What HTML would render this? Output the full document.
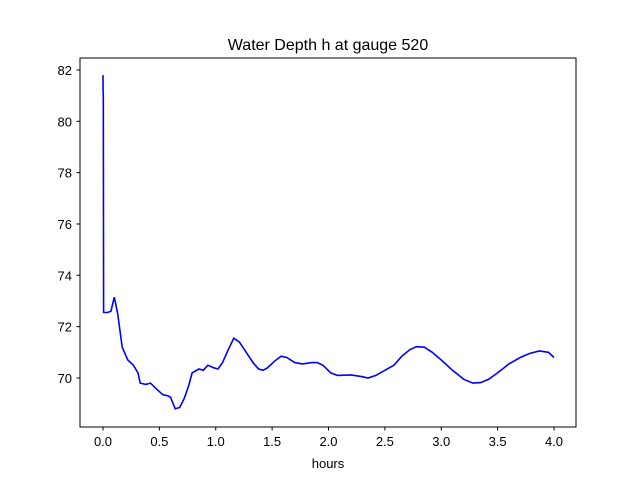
<!DOCTYPE html>
<html><head><meta charset="utf-8"><style>
body{margin:0;background:#fff;}
svg{font-family:"Liberation Sans","DejaVu Sans",sans-serif;}
</style></head><body>
<svg width="640" height="480">
<rect width="640" height="480" fill="#fff"/>
<text x="328" y="50" font-size="16" text-anchor="middle">Water Depth h at gauge 520</text>
<g id="xt"></g>
<g id="yt"></g>
<path id="ln" fill="none" stroke="#0000ff" stroke-width="1.6"/>
<rect x="80" y="58" width="496" height="369" fill="none" stroke="#000" stroke-width="1"/>
<text x="328" y="468" font-size="13" text-anchor="middle">hours</text>
</svg>
<script>
const times=[0,0.001,0.003,0.005,0.04,0.07,0.1,0.13,0.17,0.22,0.27,0.31,0.33,0.38,0.42,0.48,0.53,0.58,0.6,0.64,0.68,0.72,0.76,0.79,0.85,0.89,0.93,0.98,1.02,1.06,1.11,1.16,1.21,1.27,1.33,1.38,1.42,1.46,1.52,1.58,1.63,1.7,1.77,1.85,1.9,1.95,2.02,2.08,2.2,2.3,2.35,2.42,2.5,2.58,2.65,2.72,2.78,2.85,2.92,3.0,3.1,3.2,3.28,3.35,3.42,3.5,3.6,3.7,3.78,3.87,3.95,4.0];
const depth=[81.8,81.2,81.0,72.55,72.55,72.6,73.15,72.5,71.2,70.7,70.5,70.2,69.8,69.75,69.8,69.55,69.35,69.3,69.25,68.8,68.85,69.2,69.7,70.2,70.35,70.3,70.5,70.4,70.35,70.6,71.1,71.55,71.4,71.0,70.6,70.35,70.3,70.4,70.65,70.85,70.8,70.6,70.55,70.6,70.6,70.5,70.2,70.1,70.12,70.05,70.0,70.1,70.3,70.5,70.85,71.1,71.22,71.2,71.0,70.7,70.3,69.95,69.8,69.82,69.95,70.2,70.55,70.8,70.95,71.05,71.0,70.8];
const xTicks=[0,0.5,1,1.5,2,2.5,3,3.5,4];
const xLabels=["0.0","0.5","1.0","1.5","2.0","2.5","3.0","3.5","4.0"];
const yTicks=[70,72,74,76,78,80,82];
const X=v=>103+v*112.75, Y=v=>378-(v-70)*25.67;
const NS="http://www.w3.org/2000/svg";
const xt=document.getElementById('xt'), yt=document.getElementById('yt');
xTicks.forEach((t,i)=>{
 const l=document.createElementNS(NS,'line');
 
 
 l.setAttribute('x1',X(t));l.setAttribute('x2',X(t));l.setAttribute('y1',427);l.setAttribute('y2',430.5);l.setAttribute('stroke','#000');
 xt.appendChild(l);
 const s=document.createElementNS(NS,'text');
 
 
 s.setAttribute('x',X(t));s.setAttribute('y',446);s.setAttribute('font-size','13');s.setAttribute('text-anchor','middle');
 s.textContent=xLabels[i];xt.appendChild(s);
});
yTicks.forEach(t=>{
 const l=document.createElementNS(NS,'line');
 
 
 l.setAttribute('x1',76.5);l.setAttribute('x2',80);l.setAttribute('y1',Y(t));l.setAttribute('y2',Y(t));l.setAttribute('stroke','#000');
 yt.appendChild(l);
 const s=document.createElementNS(NS,'text');
 
 
 s.setAttribute('x',72);s.setAttribute('y',Y(t)+5);s.setAttribute('font-size','13');s.setAttribute('text-anchor','end');
 s.textContent=t;yt.appendChild(s);
});
document.getElementById('ln').setAttribute('d',times.map((t,i)=>(i?'L':'M')+X(t).toFixed(1)+','+Y(depth[i]).toFixed(1)).join(''));
</script>
</body></html>
